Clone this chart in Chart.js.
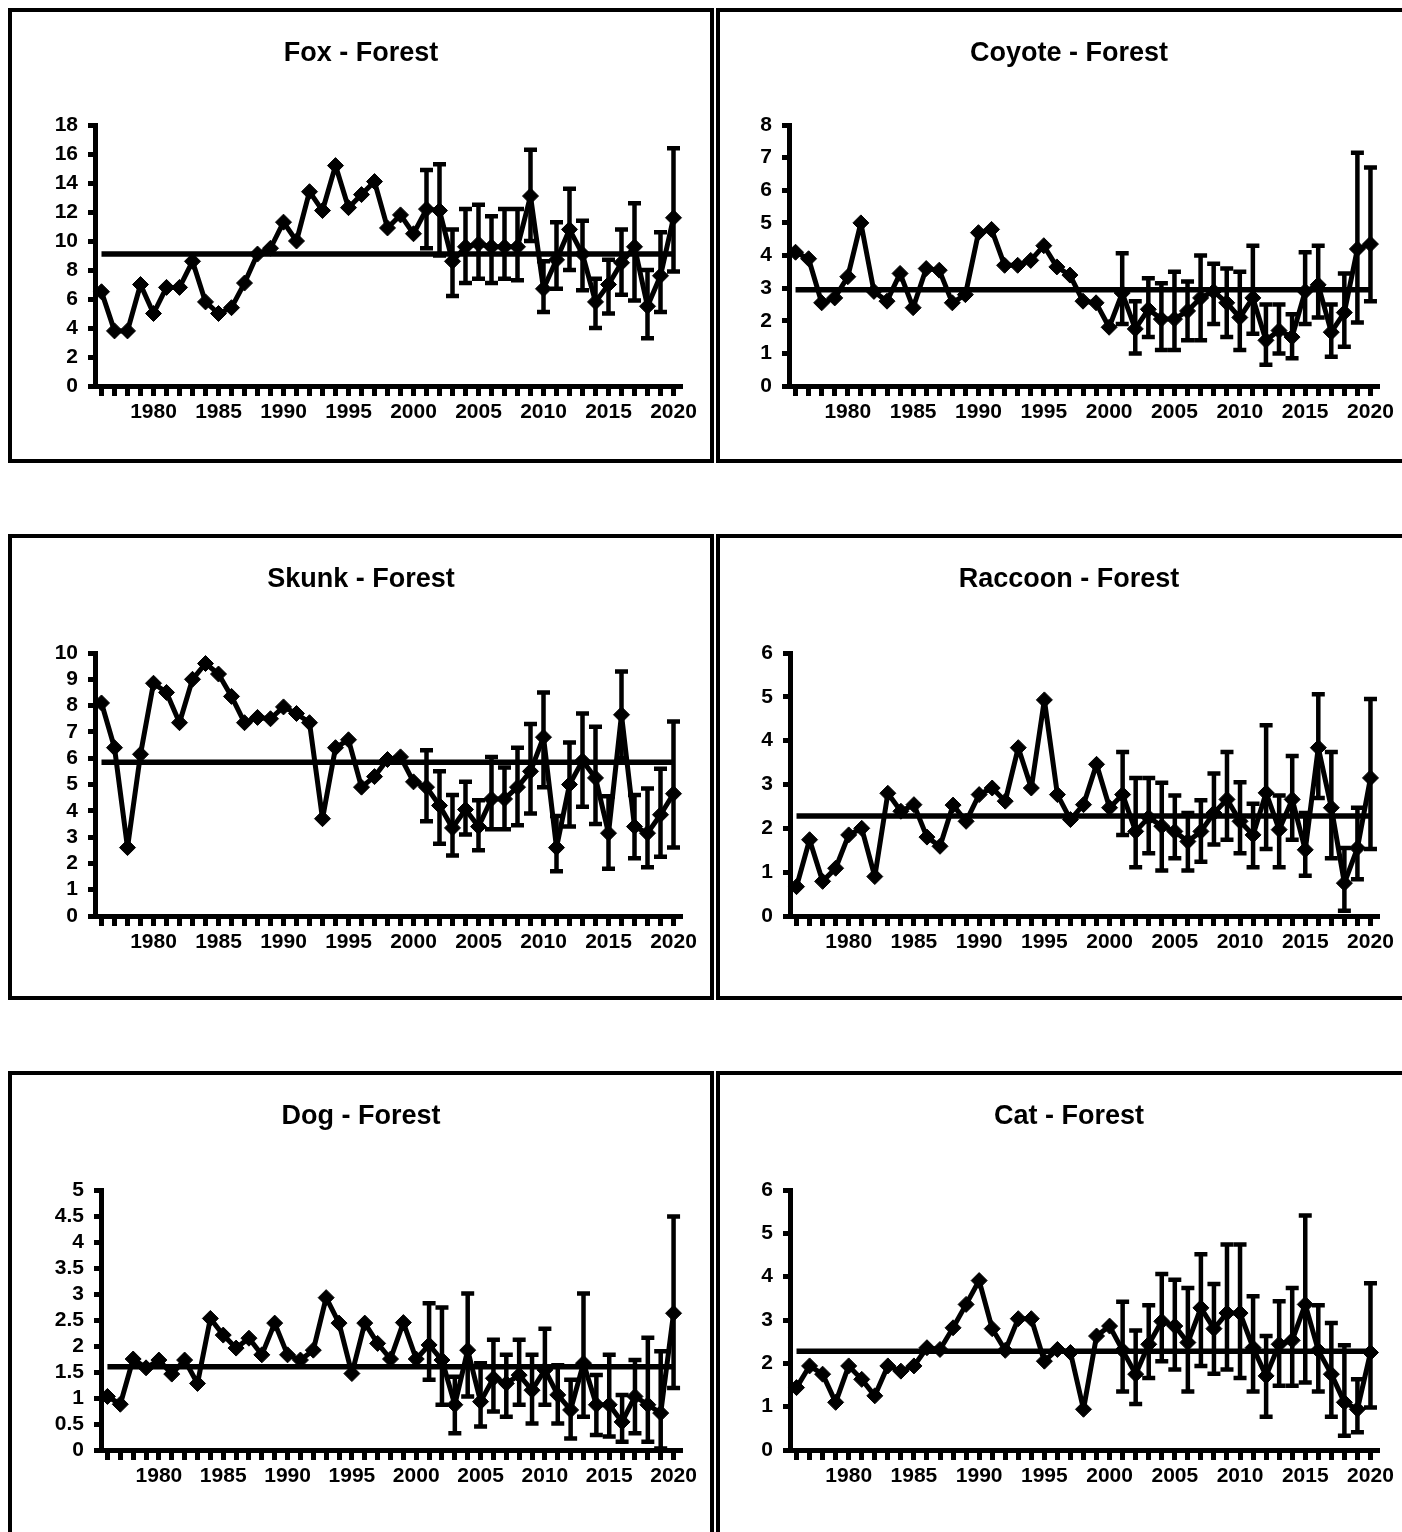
<!DOCTYPE html>
<html>
<head>
<meta charset="utf-8">
<script src="https://cdn.jsdelivr.net/npm/chart.js@4.4.1/dist/chart.umd.min.js"></script>
<style>
    body { margin: 0; background: #fff; width: 1402px; height: 1532px; overflow: hidden; position: relative; }
    .painel { position: absolute; border: 4px solid #000; box-sizing: border-box; background: #fff; }
    .painel canvas { display: block; }
</style>
</head>
<body>
<div class="painel" style="left:8px;top:8px;width:706px;height:455px"><canvas id="foxChart" width="698" height="447"></canvas></div>
<div class="painel" style="left:716px;top:8px;width:706px;height:455px"><canvas id="coyoteChart" width="698" height="447"></canvas></div>
<div class="painel" style="left:8px;top:534px;width:706px;height:466px"><canvas id="skunkChart" width="698" height="458"></canvas></div>
<div class="painel" style="left:716px;top:534px;width:706px;height:466px"><canvas id="raccoonChart" width="698" height="458"></canvas></div>
<div class="painel" style="left:8px;top:1071px;width:706px;height:470px"><canvas id="dogChart" width="698" height="462"></canvas></div>
<div class="painel" style="left:716px;top:1071px;width:706px;height:470px"><canvas id="catChart" width="698" height="462"></canvas></div>

<script>
// Anos (categorias do eixo x)
const anos = ['1976','1977','1978','1979','1980','1981','1982','1983','1984','1985',
    '1986','1987','1988','1989','1990','1991','1992','1993','1994','1995',
    '1996','1997','1998','1999','2000','2001','2002','2003','2004','2005',
    '2006','2007','2008','2009','2010','2011','2012','2013','2014','2015',
    '2016','2017','2018','2019','2020'];

// Anos com barras de erro
const anosErro = ['2001','2002','2003','2004','2005','2006','2007','2008','2009','2010',
    '2011','2012','2013','2014','2015','2016','2017','2018','2019','2020'];

// Fox
const foxValores = [6.5, 3.8, 3.8, 7.0, 5.0, 6.8, 6.8, 8.6, 5.8, 5.0, 5.4, 7.1, 9.1, 9.5, 11.3,
    10.0, 13.4, 12.1, 15.2, 12.3, 13.2, 14.1, 10.9, 11.8, 10.5, 12.2, 12.1, 8.6, 9.6, 9.8,
    9.6, 9.6, 9.6, 13.1, 6.7, 8.7, 10.8, 9.1, 5.8, 7.0, 8.5, 9.6, 5.5, 7.6, 11.6];
const foxAlto = [14.9, 15.3, 10.8, 12.2, 12.5, 11.7, 12.2, 12.2, 16.3, 8.6, 11.3, 13.6, 11.4, 7.4, 8.7, 10.8, 12.6, 8.0, 10.6, 16.4];
const foxBaixo = [9.5, 9.0, 6.2, 7.1, 7.4, 7.1, 7.4, 7.3, 10.0, 5.1, 6.7, 8.0, 6.6, 4.0, 5.0, 6.3, 5.9, 3.3, 5.1, 7.9];
const foxMedia = 9.1;

// Coyote
const coyoteValores = [4.1, 3.9, 2.55, 2.7, 3.35, 5.0, 2.9, 2.6, 3.45, 2.4, 3.6, 3.55, 2.55, 2.8, 4.7,
    4.8, 3.7, 3.7, 3.85, 4.3, 3.65, 3.4, 2.6, 2.55, 1.8, 2.85, 1.75, 2.35, 2.05, 2.05,
    2.3, 2.7, 2.9, 2.55, 2.1, 2.7, 1.4, 1.7, 1.5, 2.9, 3.1, 1.65, 2.25, 4.2, 4.35];
const coyoteAlto = [4.07, 2.6, 3.3, 3.15, 3.5, 3.2, 4.0, 3.75, 3.6, 3.5, 4.3, 2.5, 2.5, 2.2, 4.1, 4.3, 2.5, 3.45, 7.15, 6.7];
const coyoteBaixo = [1.9, 1.0, 1.5, 1.1, 1.1, 1.4, 1.4, 1.9, 1.5, 1.1, 1.6, 0.65, 1.0, 0.85, 1.9, 2.1, 0.9, 1.2, 1.95, 2.6];
const coyoteMedia = 2.95;

// Skunk
const skunkValores = [8.1, 6.4, 2.6, 6.15, 8.85, 8.5, 7.35, 9.0, 9.6, 9.2, 8.35, 7.35, 7.55, 7.5, 7.95,
    7.7, 7.35, 3.7, 6.4, 6.7, 4.9, 5.3, 5.95, 6.05, 5.1, 4.9, 4.2, 3.35, 4.05, 3.4,
    4.45, 4.45, 4.9, 5.5, 6.8, 2.6, 5.0, 5.9, 5.25, 3.15, 7.65, 3.4, 3.15, 3.85, 4.65];
const skunkAlto = [6.3, 5.5, 4.6, 5.1, 4.4, 6.05, 5.65, 6.4, 7.3, 8.5, 3.8, 6.6, 7.7, 7.2, 4.55, 9.3, 4.6, 4.85, 5.6, 7.4];
const skunkBaixo = [3.6, 2.75, 2.3, 3.1, 2.5, 3.3, 3.3, 3.45, 3.9, 4.9, 1.7, 3.4, 4.15, 3.5, 1.8, 6.0, 2.2, 1.85, 2.25, 2.6];
const skunkMedia = 5.85;

// Raccoon
const raccoonValores = [0.67, 1.74, 0.79, 1.09, 1.85, 2.0, 0.9, 2.8, 2.39, 2.54, 1.8, 1.59, 2.53, 2.16, 2.77,
    2.92, 2.62, 3.84, 2.92, 4.93, 2.77, 2.2, 2.54, 3.46, 2.47, 2.77, 1.93, 2.25, 2.05, 1.93,
    1.7, 1.93, 2.35, 2.66, 2.16, 1.85, 2.81, 1.97, 2.66, 1.51, 3.84, 2.47, 0.75, 1.55, 3.15];
const raccoonAlto = [3.74, 3.15, 3.15, 3.04, 2.75, 2.35, 2.64, 3.25, 3.74, 3.05, 2.56, 4.35, 2.75, 3.65, 2.35, 5.06, 3.74, 1.55, 2.47, 4.95];
const raccoonBaixo = [1.85, 1.11, 1.43, 1.04, 1.32, 1.04, 1.24, 1.63, 1.74, 1.43, 1.11, 1.53, 1.11, 1.74, 0.92, 2.69, 1.32, 0.12, 0.84, 1.53];
const raccoonMedia = 2.28;

// Dog
const dogValores = [1.03, 0.88, 1.75, 1.58, 1.73, 1.46, 1.73, 1.28, 2.53, 2.21, 1.96, 2.15, 1.83, 2.44, 1.83,
    1.73, 1.92, 2.93, 2.44, 1.47, 2.44, 2.05, 1.75, 2.45, 1.75, 2.02, 1.73, 0.87, 1.92, 0.93,
    1.38, 1.28, 1.44, 1.15, 1.54, 1.06, 0.77, 1.67, 0.87, 0.87, 0.54, 1.03, 0.87, 0.71, 2.63];
const dogAlto = [2.82, 2.74, 1.41, 3.01, 1.67, 2.12, 1.83, 2.12, 1.83, 2.33, 1.63, 1.35, 3.01, 1.44, 1.83, 1.06, 1.73, 2.16, 1.9, 4.49];
const dogBaixo = [1.35, 0.87, 0.32, 1.03, 0.45, 0.74, 0.64, 0.87, 0.51, 0.87, 0.51, 0.22, 0.64, 0.29, 0.26, 0.16, 0.32, 0.16, 0.03, 1.19];
const dogMedia = 1.6;

// Cat
const catValores = [1.44, 1.94, 1.75, 1.1, 1.94, 1.63, 1.25, 1.94, 1.82, 1.94, 2.36, 2.32, 2.82, 3.36, 3.91,
    2.8, 2.3, 3.03, 3.03, 2.05, 2.32, 2.25, 0.94, 2.63, 2.86, 2.3, 1.75, 2.44, 2.97, 2.86,
    2.48, 3.28, 2.8, 3.16, 3.16, 2.36, 1.71, 2.44, 2.53, 3.36, 2.3, 1.75, 1.1, 0.94, 2.25];
const catAlto = [3.42, 2.76, 3.34, 4.06, 3.93, 3.74, 4.52, 3.83, 4.74, 4.74, 3.55, 2.63, 3.43, 3.74, 5.41, 3.34, 2.93, 2.42, 1.63, 3.85];
const catBaixo = [1.35, 1.06, 1.66, 2.05, 1.86, 1.35, 1.94, 1.76, 1.86, 1.66, 1.35, 0.77, 1.48, 1.48, 1.56, 1.35, 0.77, 0.33, 0.41, 0.98];
const catMedia = 2.28;

const FONTE = "'Liberation Sans', Arial, sans-serif";

// Plugin para desenhar as barras de erro usando as escalas do gráfico
const barrasErro = {
    id: 'barrasErro',
    afterDatasetsDraw(chart) {
        const ds = chart.data.datasets[0];
        const x = chart.scales.x;
        const y = chart.scales.y;
        const ctx = chart.ctx;
        ctx.save();
        ctx.strokeStyle = '#000';
        ctx.lineWidth = 4.5;
        anosErro.forEach((ano, i) => {
            const px = x.getPixelForValue(chart.data.labels.indexOf(ano));
            const topo = y.getPixelForValue(ds.errAlto[i]);
            const base = y.getPixelForValue(ds.errBaixo[i]);
            ctx.beginPath();
            ctx.moveTo(px, topo);
            ctx.lineTo(px, base);
            ctx.moveTo(px - 6.5, topo);
            ctx.lineTo(px + 6.5, topo);
            ctx.moveTo(px - 6.5, base);
            ctx.lineTo(px + 6.5, base);
            ctx.stroke();
        });
        ctx.restore();
    }
};

// Função para criar gráfico
function criarGrafico(id, titulo, valores, alto, baixo, media, yMax, passo, esq, dir, topo, base) {
    const canvas = document.getElementById(id);
    const fonteTicks = { family: FONTE, size: 21, weight: 'bold' };
    new Chart(canvas.getContext('2d'), {
        type: 'line',
        data: {
            labels: anos,
            datasets: [{
                data: valores,
                borderColor: '#000',
                backgroundColor: '#000',
                borderWidth: 5,
                borderJoinStyle: 'round',
                pointStyle: 'rectRot',
                pointRadius: 8,
                pointBorderWidth: 1,
                tension: 0,
                errAlto: alto,
                errBaixo: baixo
            }, {
                data: anos.map(() => media),
                borderColor: '#000',
                borderWidth: 5.5,
                pointRadius: 0
            }]
        },
        options: {
            animation: false,
            responsive: false,
            layout: { padding: { left: 0, top: 0, right: 0, bottom: canvas.height - base - 60 } },
            plugins: {
                legend: { display: false },
                tooltip: { enabled: false },
                title: {
                    display: true,
                    text: titulo,
                    color: '#000',
                    font: { family: FONTE, size: 27, weight: 'bold' },
                    padding: { top: 25, bottom: topo - 25 - 32.4 }
                }
            },
            scales: {
                x: {
                    offset: true,
                    afterFit: s => { s.height = 60; },
                    border: { color: '#000', width: 5 },
                    grid: { drawOnChartArea: false, tickLength: 10, lineWidth: 5, color: '#000' },
                    ticks: {
                        autoSkip: false,
                        maxRotation: 0,
                        color: '#000',
                        font: fonteTicks,
                        padding: 4,
                        callback: function (v) {
                            const ano = this.getLabelForValue(v);
                            return ano % 5 === 0 ? ano : '';
                        }
                    }
                },
                y: {
                    min: 0,
                    max: yMax,
                    afterFit: s => { s.width = esq; },
                    border: { color: '#000', width: 5 },
                    grid: { drawOnChartArea: false, tickLength: 7, lineWidth: 5, color: '#000' },
                    ticks: {
                        stepSize: passo,
                        autoSkip: false,
                        color: '#000',
                        font: fonteTicks,
                        padding: 10,
                        callback: v => String(v)
                    }
                },
                // eixo vazio à direita, só para reservar espaço (o título fica centrado no painel)
                margem: {
                    type: 'linear',
                    position: 'right',
                    afterFit: s => { s.width = canvas.width - dir; },
                    border: { display: false },
                    grid: { display: false },
                    ticks: { display: false }
                }
            }
        },
        plugins: [barrasErro]
    });
}

// Inicializar gráficos
document.addEventListener('DOMContentLoaded', () => {
    criarGrafico('foxChart', 'Fox - Forest', foxValores, foxAlto, foxBaixo, foxMedia, 18, 2, 83, 668, 113, 374);
    criarGrafico('coyoteChart', 'Coyote - Forest', coyoteValores, coyoteAlto, coyoteBaixo, coyoteMedia, 8, 1, 69, 657, 113, 374);
    criarGrafico('skunkChart', 'Skunk - Forest', skunkValores, skunkAlto, skunkBaixo, skunkMedia, 10, 1, 83, 668, 115, 378);
    criarGrafico('raccoonChart', 'Raccoon - Forest', raccoonValores, raccoonAlto, raccoonBaixo, raccoonMedia, 6, 1, 70, 657, 115, 378);
    criarGrafico('dogChart', 'Dog - Forest', dogValores, dogAlto, dogBaixo, dogMedia, 5, 0.5, 89, 668, 115, 375);
    criarGrafico('catChart', 'Cat - Forest', catValores, catAlto, catBaixo, catMedia, 6, 1, 70, 657, 115, 375);
});
</script>
</body>
</html>
